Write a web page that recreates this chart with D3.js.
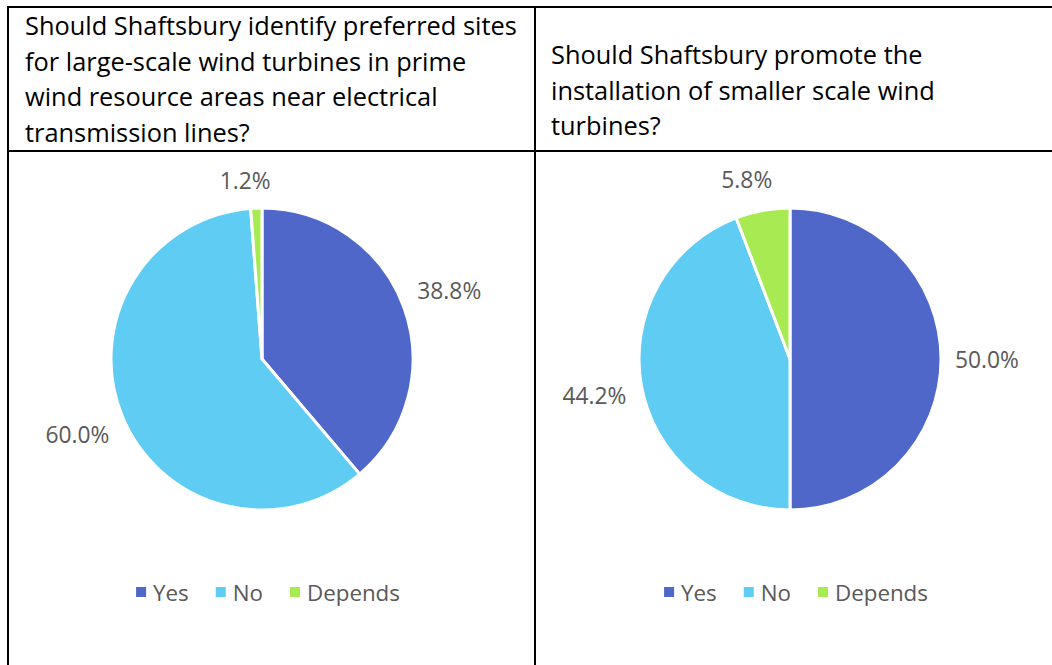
<!DOCTYPE html>
<html>
<head>
<meta charset="utf-8">
<script src="https://cdn.jsdelivr.net/npm/d3@7"></script>
<style>
  html, body { margin: 0; padding: 0; background: #fff; }
  svg { display: block; }
</style>
</head>
<body>
<svg id="chart" width="1052" height="665"></svg>
<script>
// Survey answers, in percent
const categories = ["Yes", "No", "Depends"];
const largeScaleShares = [38.8, 60.0, 1.2];
const smallScaleShares = [50.0, 44.2, 5.8];

// Question text, one entry per wrapped line
const largeScaleQuestion = [
  "Should Shaftsbury identify preferred sites",
  "for large-scale wind turbines in prime",
  "wind resource areas near electrical",
  "transmission lines?"
];
const smallScaleQuestion = [
  "Should Shaftsbury promote the",
  "installation of smaller scale wind",
  "turbines?"
];

const colors = ["#4E67C8", "#5ECCF3", "#A7EA52"];
const FONT = "'Open Sans', 'Noto Sans', sans-serif";

const svg = d3.select("#chart");
const W = 1052, H = 665;

// Pick a font size so that a sample string spans the given width
function fitSize(sample, width) {
  const probe = svg.append("text").attr("font-family", FONT).attr("font-size", 100).text(sample);
  const w = probe.node().getComputedTextLength();
  probe.remove();
  return 100 * width / w;
}
const headerSize = fitSize(largeScaleQuestion[0], 492);
const labelSize = fitSize("38.8%", 64);
const legendSize = fitSize("Depends", 93);

// Table layout
const tableLeft = 8, tableTop = 7, headerBottom = 151, divider = 535;

const grid = svg.append("g").attr("stroke", "#000").attr("stroke-width", 2);
grid.append("line").attr("x1", tableLeft - 1).attr("x2", W).attr("y1", tableTop).attr("y2", tableTop);
grid.append("line").attr("x1", tableLeft - 1).attr("x2", W).attr("y1", headerBottom).attr("y2", headerBottom);
grid.append("line").attr("x1", tableLeft).attr("x2", tableLeft).attr("y1", tableTop).attr("y2", H);
grid.append("line").attr("x1", divider).attr("x2", divider).attr("y1", tableTop).attr("y2", H);

const panels = [
  { lines: largeScaleQuestion, values: largeScaleShares, textX: 25, firstBaseline: 35, cx: 262, legendCx: 268 },
  { lines: smallScaleQuestion, values: smallScaleShares, textX: 551, firstBaseline: 64, cx: 790, legendCx: 796 }
];

const cy = 359, radius = 151;
const pie = d3.pie().sort(null).value(d => d.value);
const arc = d3.arc().innerRadius(0).outerRadius(radius);
const color = d3.scaleOrdinal().domain(categories).range(colors);

panels.forEach(p => {
  // Question header
  const t = svg.append("text")
    .attr("font-family", FONT)
    .attr("font-size", headerSize)
    .attr("fill", "#000");
  p.lines.forEach((line, i) => {
    t.append("tspan")
      .attr("x", p.textX)
      .attr("y", p.firstBaseline + i * 35.5)
      .text(line);
  });

  const data = categories.map((c, i) => ({ cat: c, value: p.values[i] }));
  const arcs = pie(data);

  const g = svg.append("g").attr("transform", `translate(${p.cx},${cy})`);
  g.selectAll("path")
    .data(arcs)
    .join("path")
    .attr("d", arc)
    .attr("fill", d => color(d.data.cat))
    .attr("stroke", "#fff")
    .attr("stroke-width", 3)
    .attr("stroke-linejoin", "round");

  // Value labels placed just outside each slice
  const labels = g.selectAll("text.val")
    .data(arcs)
    .join("text")
    .attr("class", "val")
    .attr("font-family", FONT)
    .attr("font-size", labelSize)
    .attr("fill", "#595959")
    .attr("text-anchor", "middle")
    .attr("dominant-baseline", "central")
    .text(d => d.data.value.toFixed(1) + "%");

  labels.each(function (d) {
    const w = this.getComputedTextLength();
    const h = 26;
    const a = (d.startAngle + d.endAngle) / 2;
    const s = Math.sin(a), c = -Math.cos(a);
    const extent = Math.abs(s) * w / 2 + Math.abs(c) * h / 2;
    const dist = radius + 14 + extent;
    // narrow slices near the top get their label pulled toward the wider neighbour
    const shift = (Math.abs(s) < 0.25 && c < 0) ? -w * 0.2 * Math.sign(d.endAngle - Math.PI) : 0;
    d3.select(this).attr("x", s * dist + shift).attr("y", c * dist);
  });

  // Legend
  const lg = svg.append("g").attr("font-family", FONT).attr("font-size", legendSize).attr("fill", "#595959");
  let x = 0;
  categories.forEach((c, i) => {
    const item = lg.append("g");
    item.append("rect").attr("x", 0).attr("y", -5).attr("width", 10).attr("height", 10).attr("fill", colors[i]);
    const tx = item.append("text").attr("x", 17).attr("dominant-baseline", "central").text(c);
    const w = 17 + tx.node().getComputedTextLength();
    item.attr("transform", `translate(${x},0)`);
    x += w + (i < categories.length - 1 ? 27 : 0);
  });
  lg.attr("transform", `translate(${p.legendCx - x / 2},${592})`);
});
</script>
</body>
</html>
